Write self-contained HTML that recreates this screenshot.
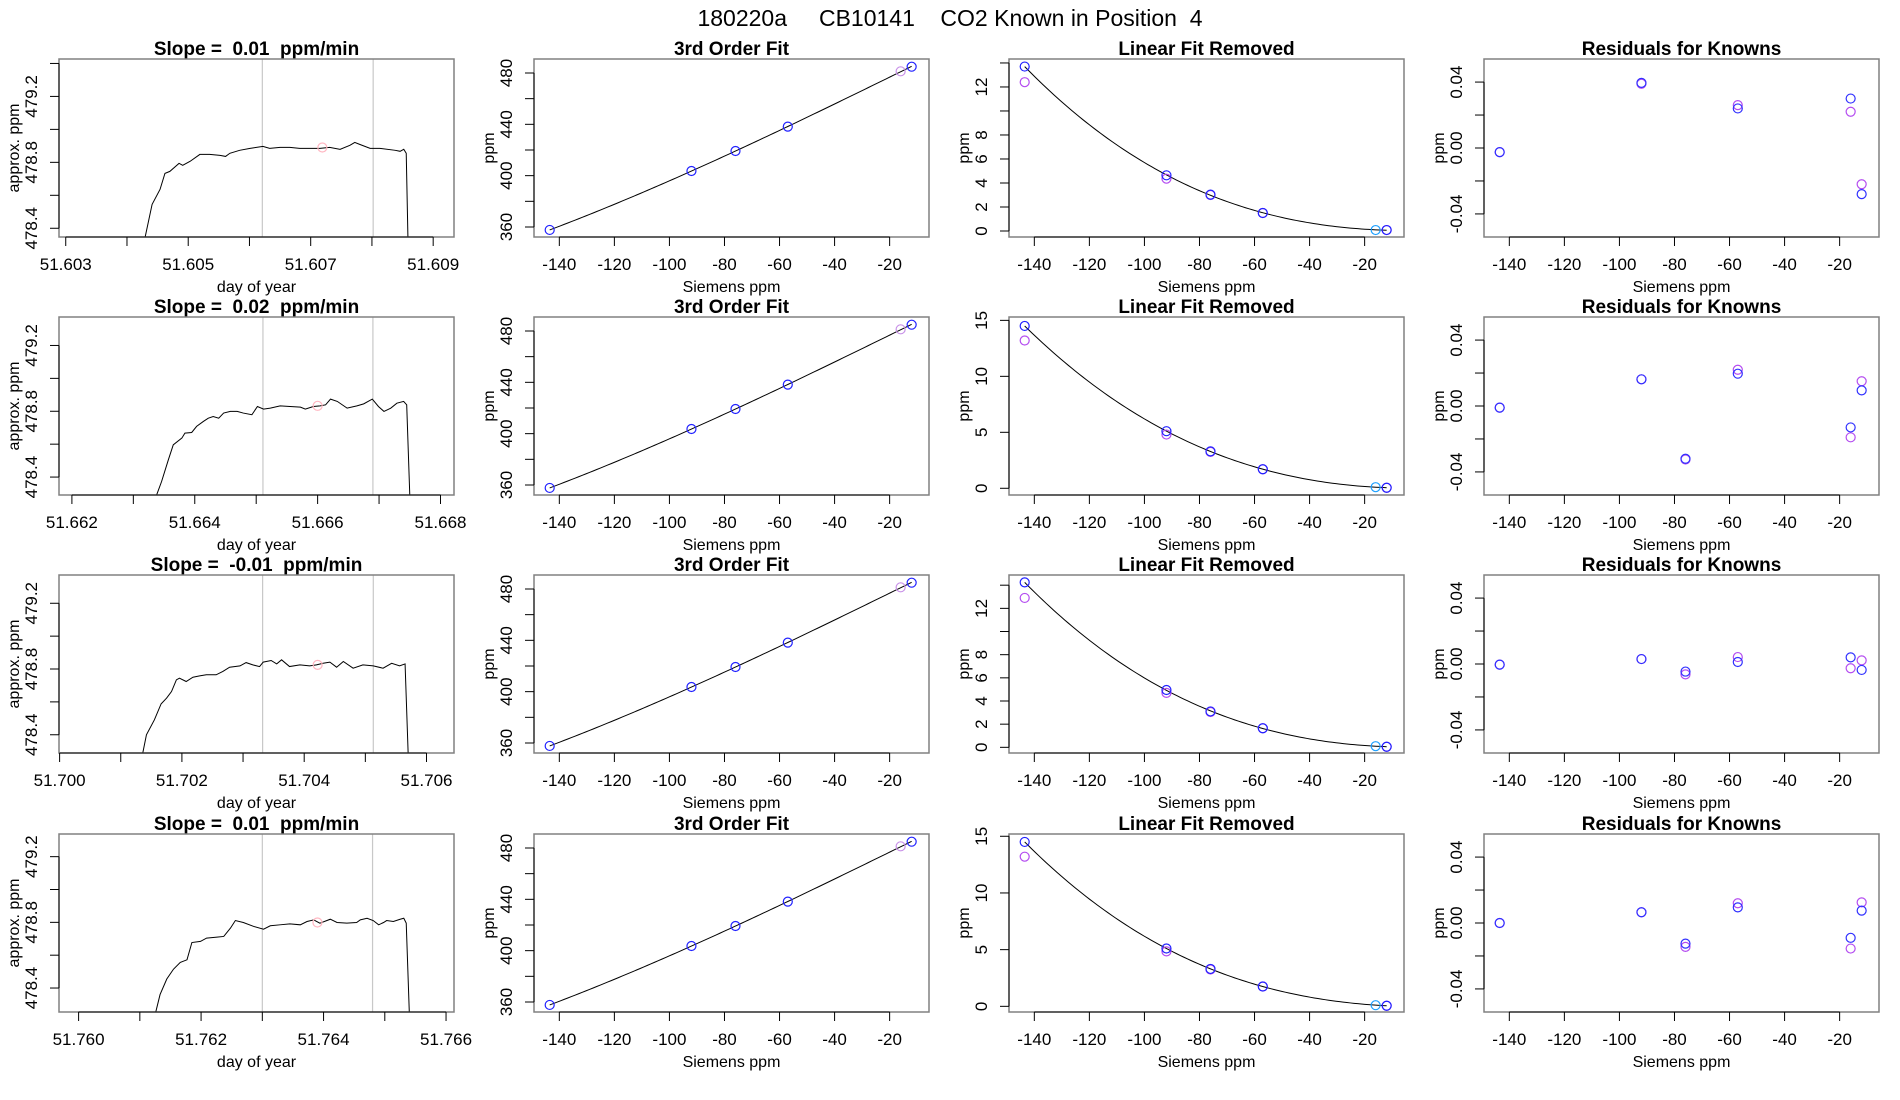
<!DOCTYPE html>
<html><head><meta charset="utf-8"><style>
html,body{margin:0;padding:0;background:#fff}
svg{display:block}
text{font-family:"Liberation Sans",Arial,sans-serif;fill:#000;white-space:pre}
</style></head><body>
<svg id="fig" width="1900" height="1100" viewBox="0 0 1900 1100" xmlns="http://www.w3.org/2000/svg" xml:space="preserve">
<rect width="1900" height="1100" fill="#fff"/>
<text x="950" y="26" text-anchor="middle" font-size="23">180220a     CB10141    CO2 Known in Position  4</text>
<g id="panels"></g>
</svg>
<script>
// ---------- data ----------
const slopeTitles = ["Slope =  0.01  ppm/min","Slope =  0.02  ppm/min","Slope =  -0.01  ppm/min","Slope =  0.01  ppm/min"];
const ts1T = [51.60427,51.60441,51.60454,51.60462,51.60470,51.60485,51.60491,51.60503,51.60519,51.60535,51.60552,51.60561,51.60568,51.60584,51.60601,51.60622,51.60633,51.60650,51.60666,51.60682,51.60699,51.60715,51.60731,51.60748,51.60764,51.60772,51.60780,51.60797,51.60813,51.60838,51.60846,51.60852,51.60856,51.60859];
const ts1V = [478.30,478.545,478.636,478.733,478.745,478.794,478.782,478.806,478.848,478.848,478.842,478.836,478.855,478.873,478.885,478.897,478.885,478.891,478.891,478.885,478.885,478.885,478.891,478.879,478.903,478.921,478.909,478.885,478.885,478.873,478.867,478.879,478.855,478.30];
const ts2T = [51.66338,51.66346,51.66357,51.66365,51.66379,51.66384,51.66395,51.66403,51.66414,51.66422,51.66430,51.66439,51.66447,51.66458,51.66469,51.66479,51.66493,51.66502,51.66512,51.66523,51.66539,51.66555,51.66572,51.66580,51.66593,51.66604,51.66613,51.66621,51.66632,51.66648,51.66664,51.66675,51.66689,51.66699,51.66708,51.66719,51.66729,51.66740,51.66745,51.66750];
const ts2V = [478.292,478.373,478.505,478.596,478.637,478.667,478.671,478.708,478.738,478.758,478.768,478.758,478.789,478.799,478.799,478.789,478.779,478.829,478.813,478.819,478.833,478.829,478.825,478.813,478.829,478.833,478.839,478.874,478.860,478.819,478.833,478.845,478.874,478.829,478.799,478.819,478.849,478.860,478.839,478.292];
const ts3T = [51.70136,51.70142,51.70155,51.70166,51.70175,51.70183,51.70191,51.70196,51.70207,51.70218,51.70229,51.70240,51.70256,51.70267,51.70278,51.70295,51.70305,51.70316,51.70327,51.70333,51.70346,51.70355,51.70363,51.70376,51.70393,51.70409,51.70420,51.70431,51.70442,51.70453,51.70464,51.70480,51.70496,51.70513,51.70529,51.70543,51.70556,51.70565,51.70570];
const ts3V = [478.289,478.400,478.491,478.588,478.623,478.663,478.734,478.744,478.724,478.750,478.758,478.765,478.765,478.785,478.811,478.819,478.839,478.825,478.815,478.842,478.852,478.831,478.856,478.815,478.825,478.819,478.825,478.835,478.842,478.811,478.846,478.805,478.825,478.819,478.805,478.835,478.819,478.831,478.289];
const ts4T = [51.76126,51.76133,51.76144,51.76155,51.76166,51.76177,51.76185,51.76199,51.76209,51.76226,51.76237,51.76248,51.76256,51.76269,51.76286,51.76302,51.76313,51.76329,51.76345,51.76362,51.76373,51.76384,51.76394,51.76411,51.76422,51.76438,51.76454,51.76460,51.76471,51.76481,51.76490,51.76498,51.76503,51.76514,51.76525,51.76531,51.76535,51.76540];
const ts4V = [478.254,478.360,478.455,478.515,478.556,478.572,478.677,478.684,478.704,478.710,478.714,478.765,478.811,478.799,478.775,478.758,478.779,478.785,478.791,478.785,478.805,478.815,478.795,478.819,478.799,478.795,478.799,478.815,478.825,478.811,478.785,478.799,478.811,478.805,478.819,478.825,478.795,478.254];
const grayLines = [[51.60621,51.60802],[51.66511,51.66690],[51.70332,51.70513],[51.76300,51.76480]];
const pinkMarkT = [51.60719,51.66600,51.70422,51.76390];
const pinkMarkV = [478.890,478.833,478.825,478.799];
const tsXTickStart = [51.603,51.662,51.700,51.760];
const tsXTickLabels = [["51.603","","51.605","","51.607","","51.609"],["51.662","","51.664","","51.666","","51.668"],["51.700","","51.702","","51.704","","51.706"],["51.760","","51.762","","51.764","","51.766"]];

const knownX = [-143.5,-92,-76,-57,-16,-12];
const fitBlue = [357.7,403.6,419.2,438.2,null,484.9];
const fitLav = [null,null,null,null,481.3,null];
const linBlue1 = [13.7,4.64,3.03,1.5,0.08,0.08];
const linPurp1 = [12.4,4.36,3.0,1.5,null,0.08];
const linBlue2 = [14.5,5.1,3.3,1.7,0.1,0.05];
const linPurp2 = [13.2,4.8,3.25,1.7,null,0.05];
const linBlue3 = [14.24,4.95,3.1,1.65,0.1,0.05];
const linPurp3 = [12.9,4.7,3.05,1.65,null,0.05];
const linBlue4 = [14.5,5.1,3.3,1.75,0.1,0.05];
const linPurp4 = [13.2,4.85,3.25,1.75,null,0.05];
const resBlue1 = [-0.0025,0.0395,null,0.024,0.030,-0.028];
const resPurp1 = [-0.0025,0.039,null,0.026,0.022,-0.022];
const resBlue2 = [-0.001,0.0162,-0.032,0.0196,-0.013,0.0095];
const resPurp2 = [-0.001,0.0162,-0.0325,0.022,-0.019,0.015];
const resBlue3 = [-0.0004,0.003,-0.0046,0.0012,0.004,-0.0036];
const resPurp3 = [-0.0004,0.003,-0.0063,0.0042,-0.0026,0.0022];
const resBlue4 = [0,0.0065,-0.0125,0.0095,-0.009,0.0075];
const resPurp4 = [0,0.0065,-0.0145,0.012,-0.0155,0.0125];
const sieTicks = [-140,-120,-100,-80,-60,-40,-20];

// ---------- layout ----------
const NS="http://www.w3.org/2000/svg";
const root=document.getElementById('panels');
const colL=[59,534,1009,1484], rowT=[59,317,575,834], PW=395, PH=178;
const tsX=[[51.60289,51.60934],[51.66179,51.66822],[51.69999,51.70645],[51.75968,51.76613]];
const tsY=[[478.347,479.427],[478.291,479.373],[478.289,479.372],[478.254,479.338]];
const linY=[[-0.5,14.33],[-0.6,15.3],[-0.49,14.88],[-0.5,15.2]];
const sieX=[-149.2,-5.7];

function el(tag,attrs,parent){const e=document.createElementNS(NS,tag);for(const k in attrs)e.setAttribute(k,attrs[k]);(parent||root).appendChild(e);return e;}
function txt(s,x,y,size,opts,parent){const t=el('text',Object.assign({x:x,y:y,'font-size':size,'text-anchor':'middle'},opts||{}),parent);t.textContent=s;return t;}

function panel(r,c,title,xr,yr,name){
  const g=el('g',{});
  
  
  const L=colL[c],T=rowT[r];
  const sx=v=>L+(v-xr[0])/(xr[1]-xr[0])*PW;
  const sy=v=>T+PH-(v-yr[0])/(yr[1]-yr[0])*PH;
  const t=txt(title,L+PW/2,T-4,19,{'font-weight':'bold'},g);
  
  
  const cp=el('clipPath',{id:'cp'+r+c},g);
  el('rect',{x:L,y:T,width:PW,height:PH},cp);
  const plot=el('g',{'clip-path':'url(#cp'+r+c+')'},g);
  return {g,plot,sx,sy,L,T};
}
function frame(P){
  const b=el('rect',{x:P.L,y:P.T,width:PW,height:PH,fill:'none',stroke:'#808080','stroke-width':1.5},P.g);
  
  
}
function xAxis(P,vals,labels,title){
  const ax=el('g',{},P.g);
  
  
  const y=P.T+PH;
  el('line',{x1:P.sx(vals[0]),x2:P.sx(vals[vals.length-1]),y1:y,y2:y,stroke:'#000','stroke-width':1},ax);
  vals.forEach((v,i)=>{const x=P.sx(v);el('line',{x1:x,x2:x,y1:y,y2:y+9,stroke:'#000','stroke-width':1},ax);
    if(labels[i])txt(labels[i],x,y+33,17,{},ax);});
  const at=txt(title,P.L+PW/2,y+55,16,{},ax);
  
  
}
function yAxis(P,vals,labels,title){
  const ax=el('g',{},P.g);
  
  
  const x=P.L;
  el('line',{x1:x,x2:x,y1:P.sy(vals[0]),y2:P.sy(vals[vals.length-1]),stroke:'#000','stroke-width':1},ax);
  vals.forEach((v,i)=>{const y=P.sy(v);el('line',{x1:x,x2:x-9,y1:y,y2:y,stroke:'#000','stroke-width':1},ax);
    if(labels[i])txt(labels[i],x-22,y,17,{transform:'rotate(-90 '+(x-22)+' '+y+')'},ax);});
  const yt=P.T+PH/2;
  const at=txt(title,x-40,yt,16,{transform:'rotate(-90 '+(x-40)+' '+yt+')'},ax);
  
  
}
function ticksIn(lo,hi,step,start){const a=[];for(let v=start;v<=hi+1e-9;v+=step){if(v>=lo-1e-9)a.push(+v.toFixed(6));}return a;}
function circle(P,x,y,col,name){
  const c=el('circle',{cx:P.sx(x),cy:P.sy(y),r:4.5,fill:'none',stroke:col,'stroke-width':1.2},P.plot);
  
  
}
function cubicFit(xs,ys){
  const px=[],py=[];xs.forEach((x,i)=>{if(ys[i]!=null){px.push(x);py.push(ys[i]);}});
  const n=4,A=[],B=[];
  for(let i=0;i<n;i++){A.push([]);B.push(0);for(let j=0;j<n;j++){let s=0;px.forEach(x=>s+=Math.pow(x,i+j));A[i].push(s);}py.forEach((y,k)=>B[i]+=y*Math.pow(px[k],i));}
  for(let i=0;i<n;i++){let m=i;for(let k=i+1;k<n;k++)if(Math.abs(A[k][i])>Math.abs(A[m][i]))m=k;[A[i],A[m]]=[A[m],A[i]];[B[i],B[m]]=[B[m],B[i]];
    for(let k=i+1;k<n;k++){const f=A[k][i]/A[i][i];for(let j=i;j<n;j++)A[k][j]-=f*A[i][j];B[k]-=f*B[i];}}
  const co=new Array(n).fill(0);for(let i=n-1;i>=0;i--){let s=B[i];for(let j=i+1;j<n;j++)s-=A[i][j]*co[j];co[i]=s/A[i][i];}
  return x=>co[0]+co[1]*x+co[2]*x*x+co[3]*x*x*x;
}
function fitLine(P,xs,ys){
  const f=cubicFit(xs,ys);const x0=Math.min(...xs),x1=Math.max(...xs);let d='';
  for(let i=0;i<=100;i++){const x=x0+(x1-x0)*i/100;d+=(i?'L':'M')+P.sx(x).toFixed(2)+','+P.sy(f(x)).toFixed(2);}
  const p=el('path',{d:d,fill:'none',stroke:'#000','stroke-width':1},P.plot);
  
  
}

const tsT=[ts1T,ts2T,ts3T,ts4T], tsV=[ts1V,ts2V,ts3V,ts4V];
const linB=[linBlue1,linBlue2,linBlue3,linBlue4], linP=[linPurp1,linPurp2,linPurp3,linPurp4];
const resB=[resBlue1,resBlue2,resBlue3,resBlue4], resP=[resPurp1,resPurp2,resPurp3,resPurp4];
const sieLabels=sieTicks.map(String);

for(let r=0;r<4;r++){
  let P=panel(r,0,slopeTitles[r],tsX[r],tsY[r],'timeseries-panel-'+(r+1));
  grayLines[r].forEach(v=>{const l=el('line',{x1:P.sx(v),x2:P.sx(v),y1:P.T,y2:P.T+PH,stroke:'#c8c8c8','stroke-width':1.2},P.plot);
    
    });
  let d='';tsT[r].forEach((t,i)=>{d+=(i?'L':'M')+P.sx(t).toFixed(2)+','+P.sy(tsV[r][i]).toFixed(2);});
  const ln=el('path',{d:d,fill:'none',stroke:'#000','stroke-width':1},P.plot);
  
  
  circle(P,pinkMarkT[r],pinkMarkV[r],'#ffb6c1','mean-marker');
  frame(P);
  const xt=[];for(let i=0;i<7;i++)xt.push(+(tsXTickStart[r]+i*0.001).toFixed(3));
  xAxis(P,xt,tsXTickLabels[r],'day of year');
  const yt=ticksIn(tsY[r][0],tsY[r][1],0.2,478.4);
  yAxis(P,yt,yt.map(v=>Math.round(v*10)%4===0?v.toFixed(1):''),'approx. ppm');

  P=panel(r,1,'3rd Order Fit',sieX,[352.2,490.9],'cubic-fit-panel-'+(r+1));
  fitLine(P,knownX,fitBlue.map((v,i)=>v!=null?v:fitLav[i]));
  knownX.forEach((x,i)=>{if(fitLav[i]!=null)circle(P,x,fitLav[i],'#c890e8','known-point');if(fitBlue[i]!=null)circle(P,x,fitBlue[i],'#2020ff','known-point');});
  frame(P);
  xAxis(P,sieTicks,sieLabels,'Siemens ppm');
  const y2=ticksIn(352.2,490.9,20,360);
  yAxis(P,y2,y2.map(v=>v%40===0?String(v):''),'ppm');

  P=panel(r,2,'Linear Fit Removed',sieX,linY[r],'linear-removed-panel-'+(r+1));
  fitLine(P,knownX,linB[r]);
  knownX.forEach((x,i)=>{if(linP[r][i]!=null)circle(P,x,linP[r][i],'#b44cf0','purple-point');
    if(linB[r][i]!=null)circle(P,x,linB[r][i],x===-16?'#1ea0ff':'#2020ff','blue-point');});
  frame(P);
  xAxis(P,sieTicks,sieLabels,'Siemens ppm');
  let y3,l3;
  if(linY[r][1]>15){y3=[0,5,10,15];l3=['0','5','10','15'];}
  else{y3=ticksIn(linY[r][0],linY[r][1],2,0);l3=y3.map(v=>(v===10||v===14)?'':String(v));}
  yAxis(P,y3,l3,'ppm');

  P=panel(r,3,'Residuals for Knowns',sieX,[-0.054,0.054],'residuals-panel-'+(r+1));
  knownX.forEach((x,i)=>{if(resP[r][i]!=null)circle(P,x,resP[r][i],'#b44cf0','purple-residual');
    if(resB[r][i]!=null)circle(P,x,resB[r][i],'#3030ff','blue-residual');});
  frame(P);
  xAxis(P,sieTicks,sieLabels,'Siemens ppm');
  yAxis(P,[-0.04,-0.02,0,0.02,0.04],['-0.04','','0.00','','0.04'],'ppm');
}
</script>
</body></html>
